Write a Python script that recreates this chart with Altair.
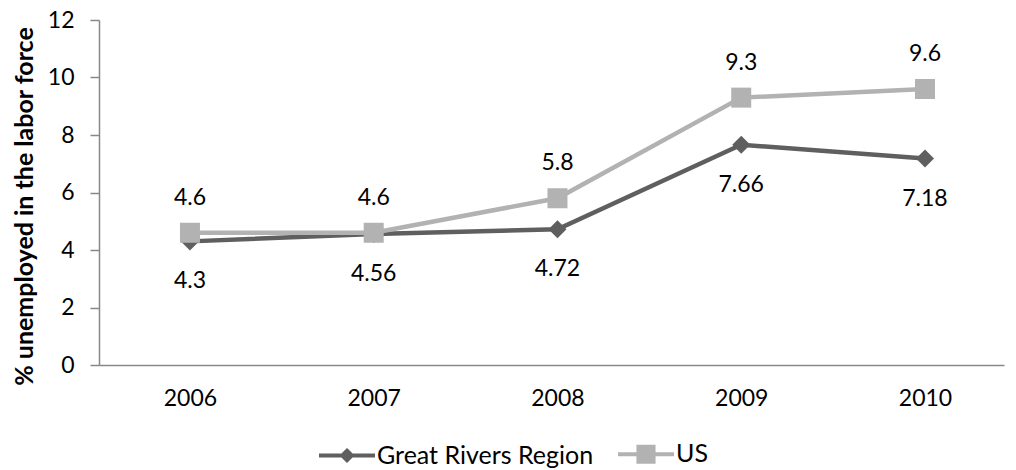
import altair as alt
import pandas as pd

years = [2006, 2007, 2008, 2009, 2010]
series_names = ["Great Rivers Region", "US"]
grr_values = [4.3, 4.56, 4.72, 7.66, 7.18]
us_values = [4.6, 4.6, 5.8, 9.3, 9.6]
grr_labels = ["4.3", "4.56", "4.72", "7.66", "7.18"]
us_labels = ["4.6", "4.6", "5.8", "9.3", "9.6"]
y_ticks = [0, 2, 4, 6, 8, 10, 12]

DARK = "#5f5f5f"
LIGHT = "#b2b2b2"
AXIS = "#888888"
FONT = "Lato"

rows = []
for yr, v, lab in zip(years, grr_values, grr_labels):
    rows.append({"year": yr, "value": v, "label": lab, "series": series_names[0]})
for yr, v, lab in zip(years, us_values, us_labels):
    rows.append({"year": yr, "value": v, "label": lab, "series": series_names[1]})
df = pd.DataFrame(rows)

x_enc = alt.X(
    "year:Q",
    scale=alt.Scale(domain=[2005.505, 2010.43], nice=False, zero=False),
    axis=alt.Axis(
        values=years, format="d", title=None, grid=False, ticks=False,
        labelFont=FONT, labelFontSize=23, labelColor="black", labelPadding=22,
        labelBaseline="top", domainColor=AXIS, domainWidth=1.5,
    ),
)
y_enc = alt.Y(
    "value:Q",
    scale=alt.Scale(domain=[0, 12], nice=False, zero=True),
    axis=alt.Axis(
        values=y_ticks, title="% unemployed in the labor force", grid=False,
        tickSize=9, tickColor=AXIS, tickWidth=1.5, domainColor=AXIS, domainWidth=1.5,
        labelFont=FONT, labelFontSize=23, labelColor="black", labelPadding=16,
        titleFont=FONT, titleFontSize=25, titleFontWeight="bold", titleColor="black",
        titleX=-75, titleY=186, titleBaseline="middle", titleAngle=270,
    ),
)

base = alt.Chart(df).encode(x=x_enc, y=y_enc)
grr = base.transform_filter(alt.datum.series == series_names[0])
us = base.transform_filter(alt.datum.series == series_names[1])

grr_line = grr.mark_line(color=DARK, strokeWidth=4.5)
grr_pts = grr.mark_point(shape="diamond", filled=True, color=DARK, size=324, opacity=1)
us_line = us.mark_line(color=LIGHT, strokeWidth=4.5)
us_pts = us.mark_point(shape="square", filled=True, color=LIGHT, size=400, opacity=1)

grr_text = grr.mark_text(font=FONT, fontSize=23, color="black", dy=40, baseline="middle").encode(text="label:N")
us_text = us.mark_text(font=FONT, fontSize=23, color="black", dy=-35, baseline="middle").encode(text="label:N")

legend_paths = [
    "M-1,0H1M0,-0.17L0.17,0L0,0.17L-0.17,0Z",
    "M-1,0H1M-0.27,-0.27H0.27V0.27H-0.27Z",
]
leg = alt.Legend(
    title=None, orient="none", legendX=218, legendY=404, direction="horizontal",
    symbolOpacity=1, symbolSize=3136, symbolStrokeWidth=4,
    labelFont=FONT, labelFontSize=25, labelColor="black", labelOffset=0,
    labelLimit=500, columnPadding=16,
)
legend_layer = alt.Chart(df).mark_point(filled=True, opacity=0, size=3136).encode(
    x=x_enc, y=y_enc,
    fill=alt.Fill("series:N", scale=alt.Scale(domain=series_names, range=[DARK, LIGHT]), legend=leg),
    stroke=alt.Stroke("series:N", scale=alt.Scale(domain=series_names, range=[DARK, LIGHT]), legend=leg),
    shape=alt.Shape("series:N", scale=alt.Scale(domain=series_names, range=legend_paths), legend=leg),
)

chart = alt.layer(
    legend_layer, grr_line, grr_pts, us_line, us_pts, grr_text, us_text
).properties(
    width=905, height=345,
    autosize=alt.AutoSizeParams(type="none"),
    padding={"left": 91, "top": 12, "right": 4, "bottom": 104},
    background="white",
).configure_view(stroke=None)

chart.save("out.html", embed_options={"renderer": "svg", "actions": False})
